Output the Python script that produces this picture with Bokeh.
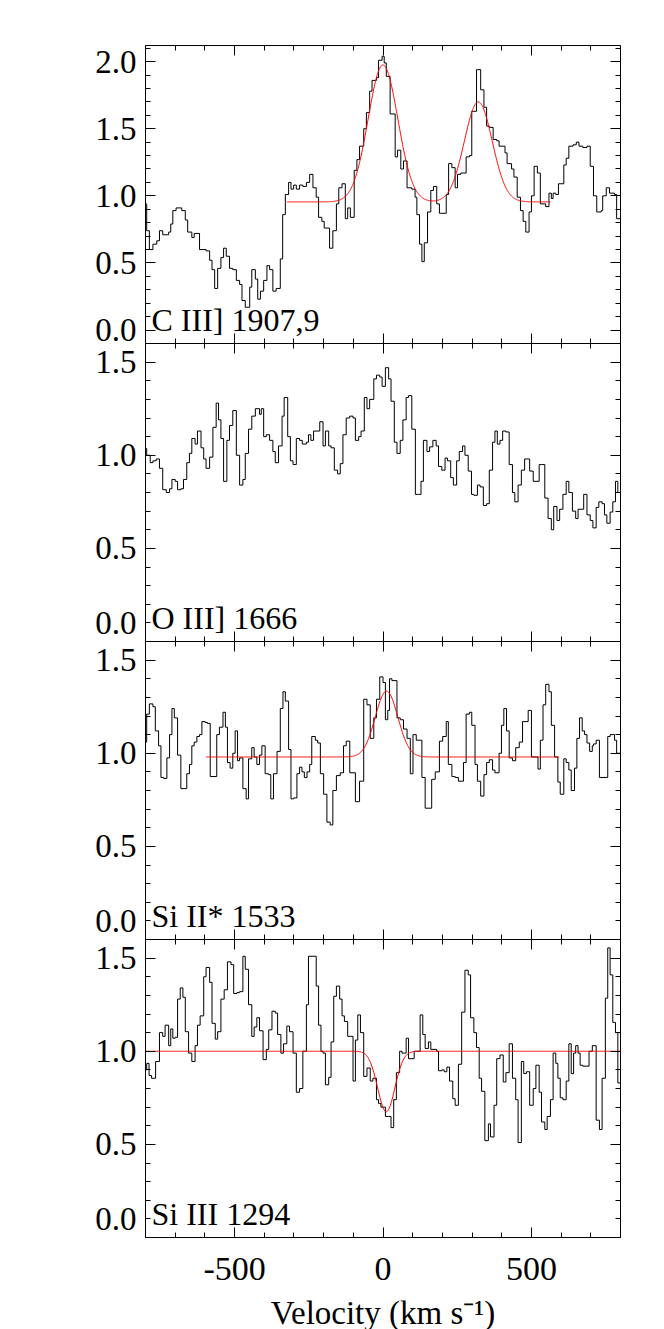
import numpy as np
from bokeh.plotting import figure
from bokeh.models import Range1d, LinearAxis, FixedTicker, PrintfTickFormatter
from bokeh.core.properties import value
from bokeh.embed import file_html
from bokeh.resources import INLINE

FONT = "Liberation Serif"

# ---------------- data ----------------
x_range = (-800, 800)
x_major = [-500, 0, 500]
x_minor = [-800, -700, -600, -500, -400, -300, -200, -100, 0, 100, 200, 300, 400, 500, 600, 700, 800]
x_title = "Velocity (km s\u207b\u00b9)"

panel_labels = ["C III] 1907,9", "O III] 1666", "Si II* 1533", "Si III 1294"]
panel_yranges = [(-0.1, 2.12), (0.0, 1.6), (0.0, 1.6), (0.0, 1.6)]
panel_ymajor = [[0.0, 0.5, 1.0, 1.5, 2.0], [0.0, 0.5, 1.0, 1.5], [0.0, 0.5, 1.0, 1.5], [0.0, 0.5, 1.0, 1.5]]

# C III] 1907,9 : left bin edges (km/s) and normalised flux
v_c3 = [-800, -796, -787, -775, -762, -753, -742, -722, -715, -708, -697, -678, -666, -658, -644, -636,
        -618, -596, -584, -576, -567, -557, -546, -537, -528, -517, -506, -494, -483, -475, -464, -449,
        -442, -430, -422, -413, -402, -391, -382, -371, -360, -346, -338, -329, -318, -310, -301, -292,
        -281, -270, -258, -247, -236, -225, -217, -206, -198, -180, -169, -157, -149, -138, -127, -119,
        -110, -97, -88, -79, -65, -56, -45, -37, -22, -15, -3, 4, 11, 24, 41, 49, 60, 69, 81, 97, 108,
        114, 123, 131, 139, 150, 161, 170, 181, 190, 213, 221, 232, 243, 251, 262, 280, 291, 299, 315,
        329, 340, 349, 358, 371, 383, 391, 411, 418, 433, 441, 452, 463, 472, 481, 492, 500, 509, 520,
        530, 548, 559, 567, 573, 582, 591, 609, 617, 626, 640, 651, 660, 673, 687, 698, 709, 720, 735,
        740, 752, 763, 780, 787]
f_c3 = [0.94, 0.74, 0.60, 0.64, 0.665, 0.74, 0.71, 0.73, 0.79, 0.89, 0.91, 0.89, 0.82, 0.73, 0.69, 0.72,
        0.60, 0.59, 0.52, 0.45, 0.31, 0.46, 0.54, 0.61, 0.55, 0.46, 0.45, 0.37, 0.34, 0.22, 0.17, 0.32,
        0.45, 0.38, 0.23, 0.29, 0.37, 0.48, 0.45, 0.29, 0.31, 0.53, 0.86, 1.01, 1.10, 1.05, 1.08, 1.05,
        1.08, 1.07, 1.10, 1.16, 1.06, 0.99, 0.84, 0.81, 0.76, 0.61, 0.74, 0.94, 1.06, 1.09, 0.83, 0.91,
        0.84, 1.19, 1.27, 1.37, 1.50, 1.62, 1.78, 1.86, 1.88, 2.01, 2.04, 1.99, 1.89, 1.61, 1.29, 1.34,
        1.20, 1.26, 1.06, 1.05, 0.99, 0.86, 0.64, 0.51, 0.65, 0.88, 1.04, 1.07, 0.94, 0.87, 1.01, 1.24,
        1.21, 1.06, 1.16, 1.17, 1.29, 1.30, 1.63, 1.94, 1.79, 1.66, 1.52, 1.51, 1.42, 1.41, 1.37, 1.32,
        1.24, 1.20, 1.14, 0.99, 0.89, 0.81, 0.73, 0.88, 1.00, 1.22, 1.17, 0.94, 0.92, 1.02, 0.98, 1.02,
        1.01, 1.09, 1.23, 1.28, 1.37, 1.38, 1.40, 1.37, 1.36, 1.37, 1.22, 1.00, 0.88, 0.89, 1.00, 1.06,
        1.02, 1.01, 0.83]

# O III] 1666
v_o3 = [-800, -796, -784, -775, -764, -753, -742, -730, -719, -711, -700, -692, -681, -672, -661, -652,
        -644, -633, -625, -613, -604, -596, -584, -573, -562, -554, -546, -537, -526, -517, -506, -494,
        -483, -472, -464, -453, -442, -430, -416, -410, -402, -393, -382, -371, -363, -352, -340, -333,
        -321, -312, -303, -292, -281, -272, -258, -251, -243, -234, -222, -213, -202, -194, -183, -175,
        -164, -153, -144, -135, -124, -112, -101, -93, -82, -74, -63, -54, -45, -31, -22, -11, -3, 8,
        19, 27, 38, 47, 58, 67, 78, 86, 97, 109, 120, 128, 136, 148, 157, 168, 179, 187, 198, 209, 217,
        228, 237, 248, 257, 268, 276, 287, 298, 306, 318, 327, 338, 349, 358, 369, 377, 385, 394, 403,
        414, 425, 436, 444, 455, 466, 477, 494, 506, 526, 533, 545, 556, 567, 575, 586, 595, 606, 617,
        626, 638, 649, 657, 676, 687, 698, 707, 718, 727, 738, 746, 754, 765, 774, 783, 791]
f_o3 = [1.036, 1.00, 0.96, 0.97, 0.98, 0.93, 0.815, 0.80, 0.82, 0.87, 0.86, 0.815, 0.82, 0.87, 0.96, 1.01,
        1.09, 1.06, 1.13, 1.04, 0.98, 0.93, 0.99, 1.15, 1.28, 1.19, 1.09, 0.86, 1.08, 1.16, 1.24, 1.00,
        0.84, 0.87, 1.01, 1.14, 1.21, 1.25, 1.22, 1.25, 1.10, 1.11, 1.08, 1.02, 0.96, 1.05, 1.21, 1.31,
        1.10, 0.97, 0.95, 1.09, 1.08, 1.06, 1.07, 1.11, 1.08, 1.13, 1.13, 1.18, 1.05, 1.13, 1.05, 1.04,
        0.92, 0.90, 0.955, 1.11, 1.20, 1.21, 1.20, 1.08, 1.10, 1.13, 1.31, 1.25, 1.30, 1.41, 1.43, 1.42,
        1.37, 1.47, 1.41, 1.29, 1.07, 1.01, 1.08, 1.19, 1.31, 1.32, 1.14, 0.79, 0.79, 0.86, 1.08, 1.02,
        1.045, 1.08, 1.05, 0.94, 0.92, 0.985, 0.97, 0.88, 0.84, 0.97, 1.02, 1.05, 1.00, 0.915, 0.79,
        0.785, 0.84, 0.83, 0.73, 0.74, 0.92, 1.07, 1.13, 1.06, 1.08, 1.13, 1.125, 0.95, 0.80, 0.75, 0.84,
        0.92, 0.98, 0.915, 0.86, 0.95, 0.95, 0.77, 0.66, 0.60, 0.725, 0.65, 0.71, 0.79, 0.86, 0.80, 0.70,
        0.66, 0.71, 0.79, 0.68, 0.65, 0.61, 0.72, 0.75, 0.74, 0.68, 0.635, 0.695, 0.75, 0.86, 0.80]

# Si II* 1533
v_si2 = [-800, -796, -787, -775, -767, -756, -748, -739, -728, -719, -711, -703, -692, -681, -661, -652,
         -644, -636, -627, -618, -610, -599, -591, -582, -560, -551, -539, -531, -524, -515, -506, -498,
         -490, -483, -472, -461, -453, -442, -434, -425, -416, -408, -397, -385, -378, -369, -357, -346,
         -337, -329, -318, -310, -301, -290, -281, -273, -265, -256, -247, -240, -228, -220, -211, -200,
         -189, -178, -169, -157, -144, -133, -124, -112, -93, -79, -65, -54, -43, -31, -22, -11, 0, 8,
         16, 22, 30, 47, 58, 69, 81, 92, 101, 112, 131, 142, 164, 176, 190, 201, 213, 220, 232, 243, 254,
         271, 280, 291, 299, 310, 318, 329, 340, 349, 358, 369, 377, 391, 399, 407, 416, 425, 436, 447,
         459, 470, 489, 500, 522, 530, 539, 548, 559, 567, 578, 589, 597, 609, 617, 626, 634, 645, 653,
         662, 671, 679, 687, 696, 705, 709, 718, 729, 757, 765, 780, 787]
f_si2 = [1.06, 1.21, 1.265, 1.25, 1.12, 1.04, 0.87, 0.865, 0.975, 1.10, 1.24, 1.19, 0.99, 0.81, 0.89, 0.94,
         1.04, 1.06, 1.09, 1.10, 1.17, 1.165, 1.16, 0.875, 1.10, 1.14, 1.22, 1.14, 0.95, 0.92, 1.00, 1.12,
         0.96, 0.975, 0.81, 0.755, 0.97, 1.03, 0.98, 0.94, 0.99, 1.04, 0.89, 0.885, 0.755, 0.89, 1.01,
         1.24, 1.33, 1.28, 1.02, 0.755, 0.76, 0.89, 0.925, 0.90, 0.87, 0.90, 0.94, 1.09, 1.07, 1.055,
         0.89, 0.78, 0.63, 0.615, 0.80, 0.88, 0.895, 1.04, 1.065, 0.895, 0.74, 0.85, 1.29, 1.26, 1.08,
         1.19, 1.29, 1.41, 1.38, 1.18, 1.23, 1.40, 1.39, 1.19, 1.18, 1.13, 1.08, 0.89, 1.10, 1.07, 0.87,
         0.705, 0.86, 0.90, 1.065, 1.09, 1.17, 0.94, 0.875, 0.87, 0.85, 0.95, 1.21, 1.22, 1.15, 0.94,
         0.85, 0.77, 0.885, 0.95, 0.965, 0.91, 0.895, 1.00, 1.15, 1.24, 1.12, 0.975, 0.96, 1.03, 1.06,
         1.17, 1.23, 0.98, 0.915, 1.07, 1.26, 1.37, 1.33, 1.15, 0.98, 0.845, 0.78, 0.97, 0.95, 0.91,
         0.80, 0.92, 1.08, 1.19, 1.12, 1.10, 1.055, 1.01, 1.04, 1.05, 1.07, 0.87, 1.09, 1.10, 1.07, 1.00]

# Si III 1294
v_si3 = [-800, -796, -788, -780, -766, -753, -742, -734, -722, -715, -708, -700, -692, -683, -674, -666,
         -655, -644, -633, -625, -616, -604, -596, -584, -576, -565, -557, -546, -535, -524, -512, -503,
         -492, -483, -472, -464, -453, -442, -434, -425, -416, -404, -393, -385, -374, -363, -355, -344,
         -335, -324, -315, -303, -292, -281, -270, -258, -251, -239, -225, -217, -209, -202, -194, -183,
         -175, -166, -157, -146, -138, -130, -119, -110, -101, -93, -85, -76, -65, -54, -43, -34, -22,
         -15, -7, 0, 8, 19, 27, 36, 45, 56, 64, 78, 86, 105, 125, 134, 142, 153, 161, 181, 187, 198, 206,
         215, 224, 235, 243, 254, 265, 276, 287, 295, 306, 315, 324, 332, 343, 355, 362, 374, 383, 394,
         405, 414, 425, 436, 447, 455, 466, 474, 483, 494, 506, 515, 526, 534, 545, 553, 564, 573, 582,
         589, 597, 606, 617, 626, 634, 642, 649, 657, 664, 673, 694, 705, 718, 729, 738, 749, 757, 765,
         774, 783, 791]
f_si3 = [0.90, 0.935, 0.87, 0.855, 0.945, 1.10, 1.08, 1.14, 1.03, 1.12, 1.07, 1.075, 1.28, 1.34, 1.29, 1.105,
         0.99, 0.945, 1.03, 1.14, 1.19, 1.40, 1.45, 1.37, 1.15, 1.065, 1.105, 1.28, 1.33, 1.48, 1.465, 1.31,
         1.315, 1.32, 1.51, 1.44, 1.25, 1.08, 1.13, 1.18, 1.11, 0.955, 1.01, 1.115, 1.215, 1.205, 1.09,
         0.99, 1.04, 1.135, 1.105, 0.99, 0.78, 0.80, 1.00, 1.25, 1.51, 1.51, 1.35, 1.14, 1.00, 0.99, 0.82,
         0.86, 1.05, 1.295, 1.35, 1.28, 1.19, 1.16, 1.08, 1.08, 0.84, 1.06, 1.195, 1.10, 0.865, 0.91, 0.84,
         0.855, 0.74, 0.72, 0.70, 0.70, 0.65, 0.65, 0.59, 0.74, 0.885, 1.00, 0.99, 1.07, 0.96, 1.00, 1.195,
         1.09, 1.015, 1.05, 1.01, 1.00, 0.895, 0.90, 0.89, 0.915, 0.84, 0.745, 0.71, 0.93, 1.21, 1.435,
         1.41, 1.18, 1.10, 1.02, 0.855, 0.785, 0.52, 0.61, 0.54, 0.71, 0.96, 0.98, 0.835, 0.885, 1.04,
         0.855, 0.74, 0.51, 0.945, 0.88, 0.89, 0.71, 0.80, 0.925, 0.78, 0.62, 0.58, 0.65, 0.74, 0.99, 0.935,
         0.855, 0.75, 0.74, 0.84, 1.04, 0.88, 0.99, 1.03, 0.99, 0.925, 0.92, 1.00, 1.03, 0.63, 0.58, 0.855,
         1.285, 1.555, 1.41, 1.155, 1.10, 0.83]

# Gaussian fit parameters (None = no fit shown)
fit_c3 = dict(span=(-324, 564), base=0.955, center=[0, 321], amp=[1.02, 0.745], sigma=[50, 47])
fit_si2 = dict(span=(-596, 593), base=0.98, center=[12], amp=[0.354], sigma=[38])
fit_si3 = dict(span=(-800, 800), base=1.0, center=[11], amp=[-0.325], sigma=[29])

panel_v = [v_c3, v_o3, v_si2, v_si3]
panel_f = [f_c3, f_o3, f_si2, f_si3]
panel_fit = [fit_c3, None, fit_si2, fit_si3]

# ---------------- layout constants (pixels) ----------------
FRAME_W, FRAME_H = 475, 1192
N = len(panel_labels)
SLOT_PX = FRAME_H / N
LABEL_MID_PX = 24        # vertical middle of panel name above panel bottom
ZERO_LABEL_LIFT_PX = 18  # bottom "0.0" tick label sits above its tick

p = figure(frame_width=FRAME_W, frame_height=FRAME_H,
           x_range=Range1d(*x_range), y_range=Range1d(0, N),
           x_axis_location=None, y_axis_location=None,
           toolbar_location=None, output_backend="svg",
           min_border_left=145, min_border_right=44, min_border_top=45, min_border_bottom=92)
p.outline_line_color = "black"
p.outline_line_width = 1
p.grid.grid_line_color = None
p.background_fill_color = "white"
p.border_fill_color = "white"

ranges = {}
for k, (a, b) in enumerate(panel_yranges):
    s = N - 1 - k
    d = b - a
    ranges[f"p{k}"] = Range1d(a - s * d, b + (N - 1 - s) * d)
p.extra_y_ranges = ranges


def tick_style(ax, major_len=10, minor_len=5):
    ax.major_tick_in = major_len
    ax.major_tick_out = 0
    ax.minor_tick_in = minor_len
    ax.minor_tick_out = 0
    ax.major_tick_line_color = "black"
    ax.minor_tick_line_color = "black"
    ax.major_tick_line_width = 1
    ax.minor_tick_line_width = 1


label_pos = []
label_txt = {}
for k, (a, b) in enumerate(panel_yranges):
    name = f"p{k}"
    s = N - 1 - k
    d = b - a
    minors = [float(t) for t in np.round(np.arange(-0.5, 2.51, 0.1), 1) if a - 1e-9 <= t <= b + 1e-9]
    majors = panel_ymajor[k]
    for side, loc in (("left", x_range[0]), ("right", x_range[1])):
        ax = LinearAxis(y_range_name=name, fixed_location=loc, bounds=(a, b),
                        ticker=FixedTicker(ticks=majors, minor_ticks=minors))
        tick_style(ax)
        ax.axis_line_color = None
        ax.major_label_text_color = None
        p.add_layout(ax, side)
    # tick label positions on the shared left label axis
    for t in majors:
        pos = s + (t - a) / d
        if k > 0 and abs(t - a) < 1e-9:
            pos += ZERO_LABEL_LIFT_PX / SLOT_PX
        pos = round(pos, 6)
        label_pos.append(pos)
        label_txt[pos] = f"{t:.1f}"

yl = LinearAxis(ticker=FixedTicker(ticks=label_pos, minor_ticks=[]),
                major_label_overrides=label_txt)
yl.axis_line_color = None
yl.major_tick_line_color = None
yl.minor_tick_line_color = None
yl.major_tick_in = 0
yl.major_tick_out = 0
yl.minor_tick_in = 0
yl.minor_tick_out = 0
yl.major_label_standoff = 9
yl.major_label_text_font = FONT
yl.major_label_text_font_size = "33px"
yl.major_label_text_color = "black"
p.add_layout(yl, "left")

# horizontal axes: top and bottom of every panel
for j in range(N + 1):
    if j >= 1:
        at = LinearAxis(fixed_location=j, ticker=FixedTicker(ticks=x_major, minor_ticks=x_minor))
        tick_style(at)
        at.axis_line_color = "black"
        at.major_label_text_color = None
        p.add_layout(at, "above")
    if 1 <= j <= N - 1:
        ab = LinearAxis(fixed_location=j, ticker=FixedTicker(ticks=x_major, minor_ticks=x_minor))
        tick_style(ab)
        ab.axis_line_color = "black"
        ab.major_label_text_color = None
        p.add_layout(ab, "below")

xb = LinearAxis(ticker=FixedTicker(ticks=x_major, minor_ticks=x_minor),
                formatter=PrintfTickFormatter(format="%d"),
                axis_label=x_title)
tick_style(xb)
xb.axis_line_color = "black"
xb.major_label_standoff = 20
xb.major_label_text_font = FONT
xb.major_label_text_font_size = "34px"
xb.major_label_text_color = "black"
xb.axis_label_standoff = 12
xb.axis_label_text_font = FONT
xb.axis_label_text_font_size = "33px"
xb.axis_label_text_font_style = "normal"
xb.axis_label_text_color = "black"
p.add_layout(xb, "below")

# data
for k in range(N):
    name = f"p{k}"
    xs = panel_v[k] + [x_range[1]]
    ys = panel_f[k] + [panel_f[k][-1]]
    p.step(xs, ys, mode="after", y_range_name=name, line_color="black", line_width=1)
    fit = panel_fit[k]
    if fit is not None:
        xf = np.linspace(fit["span"][0], fit["span"][1], 700)
        yf = np.full_like(xf, fit["base"])
        for c, A, sg in zip(fit["center"], fit["amp"], fit["sigma"]):
            yf = yf + A * np.exp(-0.5 * ((xf - c) / sg) ** 2)
        p.line(xf, yf, y_range_name=name, line_color="red", line_width=1)
    a, b = panel_yranges[k]
    p.text(x=[x_range[0]], y=[a + (b - a) * LABEL_MID_PX / SLOT_PX], text=[panel_labels[k]],
           y_range_name=name, x_offset=6, text_baseline="middle", text_align="left",
           text_font=value(FONT), text_font_size="32px", text_color="black")

open("out.html", "w").write(file_html(p, INLINE))
